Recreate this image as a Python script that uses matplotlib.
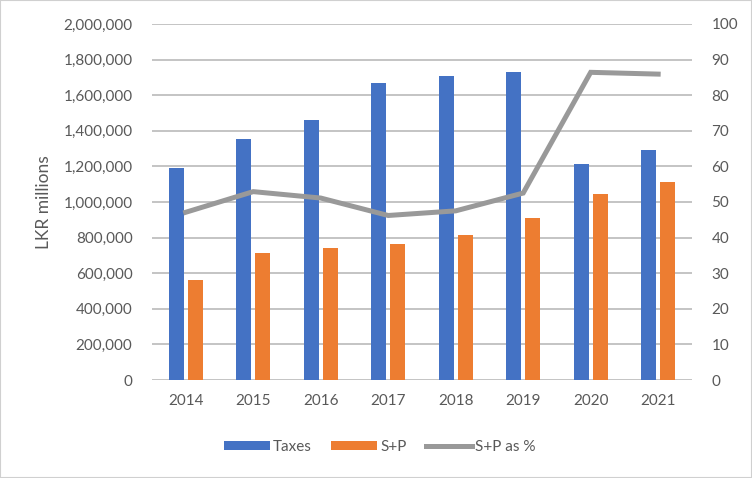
import matplotlib
matplotlib.use("Agg")
import matplotlib.pyplot as plt
import numpy as np
from matplotlib.ticker import FuncFormatter, MultipleLocator
from matplotlib.patches import Rectangle

years = ["2014", "2015", "2016", "2017", "2018", "2019", "2020", "2021"]
taxes = [1191000, 1354000, 1461000, 1669000, 1708000, 1730000, 1213000, 1292000]
sp = [562000, 713000, 742000, 764000, 815000, 910000, 1045000, 1112000]
sp_pct = [47.1, 52.9, 51.1, 46.2, 47.5, 52.5, 86.4, 85.9]

BLUE = "#4472C4"
ORANGE = "#ED7D31"
GRAY = "#999999"
TXT = "#595959"
GRID = "#C4C4C4"

plt.rcParams['font.family'] = ['Lato', 'DejaVu Sans']

fig = plt.figure(figsize=(7.52, 4.78), dpi=100)
fig.patches.append(Rectangle((0, 0), 1, 1, transform=fig.transFigure, fill=False,
                             edgecolor="#D0D0D0", linewidth=1.5))
ax = fig.add_axes([0.2021, 0.205, 0.718, 0.745])
x = np.arange(len(years))
w = 0.22
ax.bar(x - 0.14, taxes, width=w, color=BLUE, label="Taxes", zorder=2)
ax.bar(x + 0.14, sp, width=w, color=ORANGE, label="S+P", zorder=2)
ax.set_xlim(-0.5, len(years) - 0.5)
ax.set_ylim(0, 2000000)
ax.yaxis.set_major_locator(MultipleLocator(200000))
ax.yaxis.set_major_formatter(FuncFormatter(lambda v, p: f"{int(v):,}"))
ax.grid(axis="y", color=GRID, linewidth=1.4, zorder=0)
ax.set_axisbelow(True)
for s in ax.spines.values():
    s.set_visible(False)
ax.tick_params(axis="both", length=0, labelsize=11, colors=TXT)
ax.tick_params(axis="y", pad=14)
ax.tick_params(axis="x", pad=10)
ax.set_xticks(x)
ax.set_xticklabels(years)
ax.set_ylabel("LKR millions", fontsize=12.5, color=TXT, labelpad=8)

ax2 = ax.twinx()
ax2.plot(x, sp_pct, color=GRAY, linewidth=3.6, label="S+P as %", zorder=3,
         solid_joinstyle="miter")
ax2.set_ylim(0, 100)
ax2.yaxis.set_major_locator(MultipleLocator(10))
for s in ax2.spines.values():
    s.set_visible(False)
ax2.tick_params(axis="y", length=0, labelsize=11, colors=TXT, pad=14)

h1, l1 = ax.get_legend_handles_labels()
h2, l2 = ax2.get_legend_handles_labels()
leg = fig.legend(h1 + h2, l1 + l2, loc="center", bbox_to_anchor=(0.505, 0.065),
                 ncol=3, frameon=False, fontsize=11, handlelength=3.0,
                 handleheight=0.6, columnspacing=1.3, handletextpad=0.2)
for t in leg.get_texts():
    t.set_color(TXT)

fig.savefig("out.png", dpi=100)
